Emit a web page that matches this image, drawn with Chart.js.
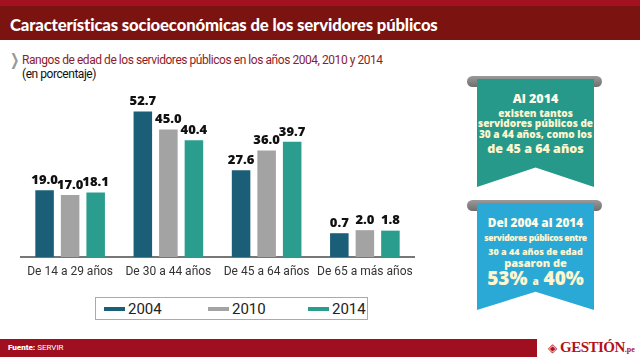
<!DOCTYPE html>
<html><head><meta charset="utf-8">
<script src="https://cdn.jsdelivr.net/npm/chart.js@4"></script>
<style>
html,body{margin:0;padding:0;width:640px;height:357px;overflow:hidden;background:#fff;font-family:Roboto,"Open Sans",sans-serif}
.abs{position:absolute}
#topband{left:0;top:0;width:640px;height:6px;background:#a3101f}
#titleband{left:0;top:6px;width:640px;height:34px;background:#7b1310}
#title{left:10px;top:12px;color:#fff;font:900 16.7px Lato,sans-serif;letter-spacing:-0.15px;white-space:nowrap;line-height:26px}
#chev{left:8px;top:51px;color:#999;font:700 16px "DejaVu Sans",sans-serif;line-height:18px;transform:scaleX(0.7)}
#sub1{left:22px;top:52px;color:#8e1b2a;font:400 12px Roboto,sans-serif;letter-spacing:-0.45px;white-space:nowrap;line-height:16px}
#sub2{left:22px;top:66px;color:#111;font:400 12px Roboto,sans-serif;letter-spacing:-0.45px;white-space:nowrap;line-height:16px}
#chartwrap{left:0;top:90px;width:425px;height:190px}
#legend{left:95px;top:297px;width:271px;height:21px;border:1px solid #aaa;background:#fff}
.sw{position:absolute;top:9px;width:21px;height:4px}
.lt{position:absolute;top:1px;font:400 15px Roboto,sans-serif;color:#222;line-height:20px}
#footer{left:0;top:339px;width:537px;height:18px;background:#a00f1f}
#fuente{left:8px;top:339px;color:#fff;font:400 8px Roboto,sans-serif;line-height:18px}
#logo{left:548px;top:337px;color:#b3121c;font:700 15px "Liberation Serif",serif;line-height:20px;white-space:nowrap;letter-spacing:-0.5px}
.rod{position:absolute;height:11px;border-radius:6px;background:linear-gradient(#9a9a9a,#6f6f6f)}
.ban{position:absolute;clip-path:polygon(0 0,100% 0,100% 100%,50% 82%,0 100%)}
.bl{position:absolute;left:0;width:100%;text-align:center;white-space:nowrap;font-family:"Open Sans",sans-serif;font-weight:800;color:#fff6cf}
</style></head><body>
<div class="abs" id="topband"></div>
<div class="abs" id="titleband"></div>
<div class="abs" id="title">Características socioeconómicas de los servidores públicos</div>
<div class="abs" id="chev">❯</div>
<div class="abs" id="sub1">Rangos de edad de los servidores públicos en los años 2004, 2010 y 2014</div>
<div class="abs" id="sub2">(en porcentaje)</div>
<div class="abs" id="chartwrap"><canvas id="c"></canvas></div>
<div class="abs" id="legend"></div>

<div class="rod" style="left:467px;top:76px;width:135px"></div>
<div class="ban" style="left:477px;top:79px;width:117px;height:108px;background:#27998a">
  <div class="bl" style="top:11px;font-size:12.5px;line-height:17px;color:#fffbe6">Al 2014</div>
  <div class="bl" style="top:28px;font-size:10px;line-height:12px">existen tantos</div>
  <div class="bl" style="top:38px;font-size:10px;line-height:12px">servidores públicos de</div>
  <div class="bl" style="top:49px;font-size:10px;line-height:12px">30 a 44 años, como los</div>
  <div class="bl" style="top:61px;font-size:12.5px;line-height:18px">de 45 a 64 años</div>
</div>
<div class="rod" style="left:467px;top:200px;width:135px"></div>
<div class="ban" style="left:477px;top:203px;width:117px;height:107px;background:#2ba9d6;clip-path:polygon(0 0,100% 0,100% 100%,50% 83%,0 100%)">
  <div class="bl" style="top:11px;font-size:11.8px;line-height:17px;color:#fffbe6">Del 2004 al 2014</div>
  <div class="bl" style="top:29px;font-size:8.5px;line-height:12px;letter-spacing:-0.35px">servidores públicos entre</div>
  <div class="bl" style="top:43px;font-size:9px;line-height:12px">30 a 44 años de edad</div>
  <div class="bl" style="top:53px;font-size:11px;line-height:14px">pasaron de</div>
  <div class="bl" style="top:62px;font-size:19px;line-height:26px">53% <span style="font-size:10px">a</span> 40%</div>
</div>

<div class="abs" id="footer"></div>
<div class="abs" id="fuente"><b style="font-weight:900">Fuente:</b> SERVIR</div>
<div class="abs" id="logo"><span style="font-family:'DejaVu Sans';font-size:12px">◈</span> GESTIÓN<span style="font-size:8px;letter-spacing:0">.pe</span></div>

<script>
const categories = ["De 14 a 29 años", "De 30 a 44 años", "De 45 a 64 años", "De 65 a más años"];
const seriesLabels = ["2004", "2010", "2014"];
const values2004 = [19.0, 52.7, 27.6, 0.7];
const values2010 = [17.0, 45.0, 36.0, 2.0];
const values2014 = [18.1, 40.4, 39.7, 1.8];
const seriesColors = ["#1b5e77", "#a3a3a3", "#2a9d8e"];
const axisMin = -9.45;
const axisMax = 55;

const seriesValues = [values2004, values2010, values2014];
const datasets = seriesLabels.map((lab, i) => ({
  label: lab,
  data: seriesValues[i],
  backgroundColor: seriesColors[i],
  base: axisMin,
  categoryPercentage: 0.78,
  barPercentage: 0.725
}));

const labelPlugin = {
  id: 'vals',
  afterDatasetsDraw(chart) {
    const ctx = chart.ctx;
    ctx.save();
    ctx.font = '800 13px "Open Sans", sans-serif';
    ctx.fillStyle = '#111';
    ctx.textAlign = 'center';
    ctx.textBaseline = 'middle';
    chart.data.datasets.forEach((ds, di) => {
      chart.getDatasetMeta(di).data.forEach((bar, i) => {
        ctx.fillText(ds.data[i].toFixed(1), bar.x, bar.y - 10);
      });
    });
    ctx.restore();
  }
};

new Chart(document.getElementById('c'), {
  type: 'bar',
  data: { labels: categories, datasets },
  options: {
    responsive: true,
    maintainAspectRatio: false,
    animation: false,
    layout: { padding: { left: 21, right: 11, top: 16, bottom: 0 } },
    plugins: { legend: { display: false }, tooltip: { enabled: false } },
    scales: {
      x: {
        grid: { display: false, drawTicks: false },
        border: { display: true, color: '#777', width: 2 },
        ticks: { color: '#333', font: { family: 'Roboto', size: 12 }, padding: 8, maxRotation: 0, autoSkip: false },
        afterFit(s) { s.height = 23; }
      },
      y: { display: false, min: axisMin, max: axisMax }
    }
  },
  plugins: [labelPlugin]
});

const leg = document.getElementById('legend');
const swX = [8, 112, 212];
seriesLabels.forEach((lab, i) => {
  const s = document.createElement('div');
  s.className = 'sw'; s.style.left = swX[i] + 'px'; s.style.background = seriesColors[i];
  leg.appendChild(s);
  const t = document.createElement('div');
  t.className = 'lt'; t.style.left = (swX[i] + 24) + 'px'; t.textContent = lab;
  leg.appendChild(t);
});
</script>
</body></html>
